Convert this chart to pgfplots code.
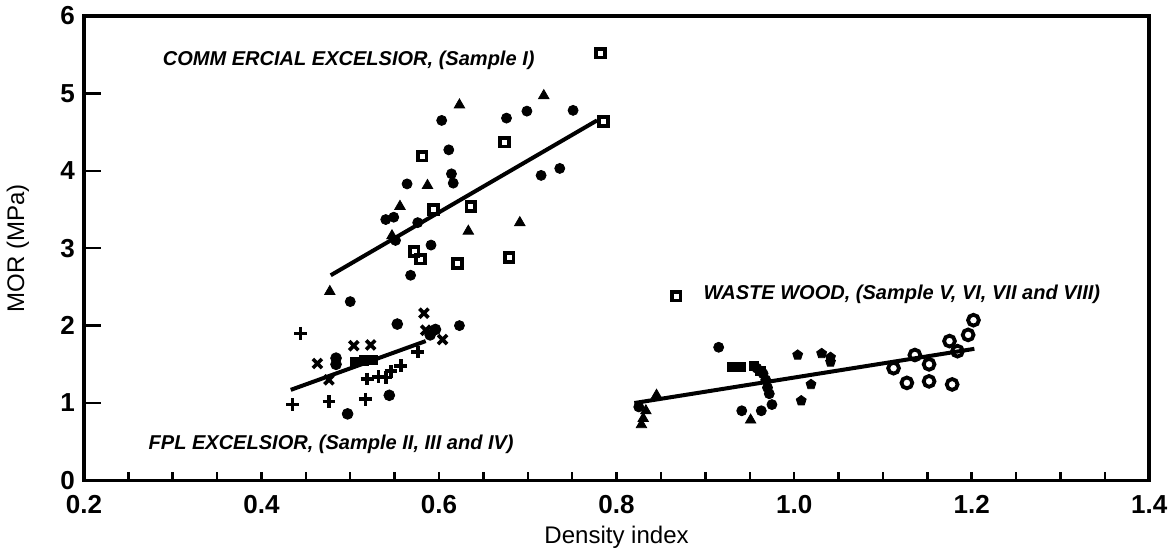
\documentclass[border=0pt]{standalone}
\usepackage{fontspec}
\setmainfont{Liberation Sans}
\usepackage{pgfplots}
\pgfplotsset{compat=1.18}
\usetikzlibrary{plotmarks}

\begin{document}
\begin{tikzpicture}
\begin{axis}[
    scale only axis,
    width=532pt, height=232pt,
    xmin=0.2, xmax=1.4, ymin=0, ymax=6,
    xtick={0.2,0.4,...,1.4},
    minor xtick={0.25,0.3,...,1.36},
    ytick={0,1,...,6},
    tick pos=left, tick align=inside,
    major tick length=8.5pt, minor tick length=4pt,
    major x tick style={draw=none},
    tick style={line width=1.2pt, black},
    axis line style={line width=1.8pt},
    /pgf/number format/assume math mode=true,
    ticklabel style={font=\bfseries\fontsize{13}{15}\selectfont},
    xticklabel style={yshift=-4pt, /pgf/number format/.cd, fixed, fixed zerofill, precision=1},
    yticklabel style={xshift=-1pt},
    xlabel={Density index},
    ylabel={MOR (MPa)},
    label style={font=\fontsize{12}{14}\selectfont},
    xlabel style={yshift=1pt},
    ylabel style={at={(axis description cs:-0.062,0.5)}, anchor=center},
    clip=false,
]

% regression lines
\addplot[black, line width=2pt] coordinates {(0.478,2.65) (0.778,4.65)};
\addplot[black, line width=2pt] coordinates {(0.433,1.17) (0.585,1.80)};
\addplot[black, line width=2pt] coordinates {(0.820,1.00) (1.203,1.70)};

% commercial excelsior, sample I
\addplot[only marks, mark=*, mark size=2.5pt, black] coordinates {
    (0.500,2.31) (0.568,2.65) (0.591,3.04) (0.564,3.83) (0.603,4.65)
    (0.611,4.27) (0.614,3.96) (0.616,3.84) (0.676,4.68) (0.699,4.77)
    (0.751,4.78) (0.715,3.94) (0.736,4.03) (0.540,3.37) (0.549,3.40)
    (0.576,3.33) (0.551,3.10) (0.623,2.00)
};
\addplot[only marks, mark=triangle*, mark size=3pt, black] coordinates {
    (0.477,2.44) (0.556,3.54) (0.587,3.81) (0.623,4.85) (0.633,3.22)
    (0.691,3.33) (0.718,4.97) (0.547,3.16)
};
\addplot[only marks, mark=square, mark size=2.2pt, black, line width=1.9pt] coordinates {
    (0.782,5.52) (0.785,4.64) (0.674,4.37) (0.581,4.19) (0.636,3.54)
    (0.594,3.50) (0.572,2.96) (0.579,2.86) (0.621,2.80) (0.679,2.88)
    (0.867,2.38)
};

% FPL excelsior, samples II, III and IV
\addplot[only marks, mark=+, mark size=3.2pt, black, line width=1.8pt] coordinates {
    (0.444,1.90) (0.435,0.98) (0.476,1.02) (0.517,1.05) (0.576,1.66)
    (0.557,1.48) (0.519,1.31) (0.532,1.34) (0.546,1.41) (0.540,1.33)
};
\addplot[only marks, mark=x, mark size=3.2pt, black, line width=1.8pt] coordinates {
    (0.463,1.51) (0.504,1.74) (0.523,1.75) (0.476,1.30) (0.583,2.16)
    (0.585,1.94) (0.604,1.82)
};
\addplot[only marks, mark=*, mark size=2.7pt, black] coordinates {
    (0.484,1.58) (0.484,1.50) (0.553,2.02) (0.544,1.10) (0.497,0.86)
    (0.596,1.95) (0.590,1.88)
};
\addplot[only marks, mark=square*, mark size=2.3pt, black] coordinates {
    (0.505,1.53) (0.515,1.55) (0.525,1.56)
};

% waste wood, samples V, VI, VII and VIII
\addplot[only marks, mark=triangle*, mark size=3pt, black] coordinates {
    (0.828,0.72) (0.830,0.80) (0.833,0.90) (0.845,1.10) (0.951,0.78)
};
\addplot[only marks, mark=*, mark size=2.5pt, black] coordinates {
    (0.825,0.95) (0.915,1.72) (0.941,0.90) (0.958,1.45) (0.965,1.38)
    (0.968,1.30) (0.970,1.20) (0.972,1.12) (0.975,0.98) (0.963,0.90)
};
\addplot[only marks, mark=square*, mark size=2.3pt, black] coordinates {
    (0.930,1.47) (0.940,1.47) (0.955,1.48) (0.962,1.42)
};
\addplot[only marks, mark=pentagon*, mark size=2.6pt, black] coordinates {
    (1.004,1.62) (1.008,1.03) (1.019,1.24) (1.031,1.64) (1.041,1.59)
    (1.041,1.53)
};
\addplot[only marks, mark=o, mark size=2.7pt, black, line width=1.9pt] coordinates {
    (1.112,1.45) (1.127,1.26) (1.152,1.28) (1.152,1.50) (1.178,1.24)
    (1.175,1.80) (1.196,1.88) (1.202,2.07) (1.136,1.62) (1.184,1.67)
};

% group labels
\node[anchor=west, font=\bfseries\itshape\fontsize{10}{12}\selectfont]
    at (axis cs:0.281,5.42) {COMM ERCIAL EXCELSIOR, (Sample I)};
\node[anchor=west, font=\bfseries\itshape\fontsize{10}{12}\selectfont]
    at (axis cs:0.265,0.47) {FPL EXCELSIOR, (Sample II, III and IV)};
\node[anchor=west, font=\bfseries\itshape\fontsize{10}{12}\selectfont]
    at (axis cs:0.890,2.40) {WASTE WOOD, (Sample V, VI, VII and VIII)};

\end{axis}
\end{tikzpicture}
\end{document}
